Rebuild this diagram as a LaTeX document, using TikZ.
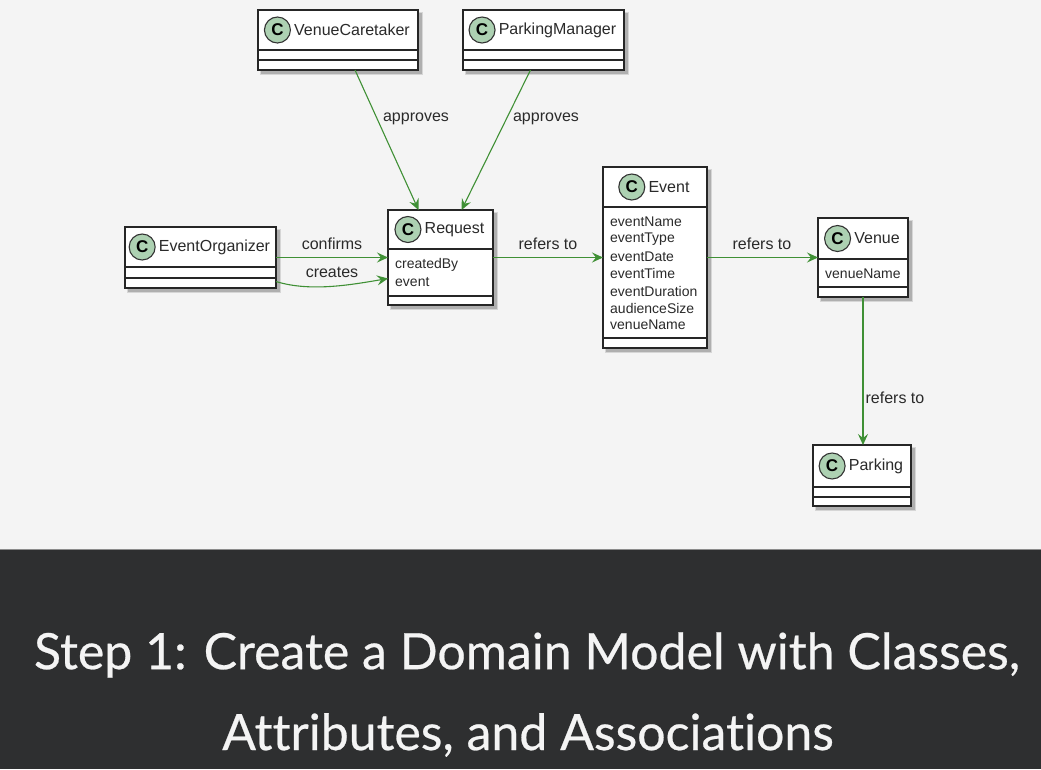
\documentclass[tikz,border=0pt]{standalone}
\usepackage{fontspec}
\setmainfont{Liberation Sans}
\newfontfamily\titlefont[Ligatures={NoCommon},FakeBold=0.5]{Lato}
\usetikzlibrary{arrows.meta,positioning}
\definecolor{bgtop}{HTML}{F4F4F4}
\definecolor{bgbot}{HTML}{2E2F30}
\definecolor{csymfill}{HTML}{ADD1B2}
\definecolor{assoc}{HTML}{3F9035}
\definecolor{txt}{HTML}{2A2A2A}
\definecolor{titletxt}{HTML}{F4F4F4}
\tikzset{
  classrect/.style={draw=black!85, line width=1.3pt, fill=white, inner sep=0pt, outer sep=0pt},
  boxline/.style={draw=black!85, line width=1.1pt},
  classname/.style={font=\fontsize{16}{18}\selectfont, text=txt, inner sep=0pt},
  csym/.style={circle, draw=black!80, line width=1.1pt, fill=csymfill, minimum size=26pt, inner sep=0pt, font=\bfseries\fontsize{17}{17}\selectfont},
  attr/.style={font=\fontsize{14}{16}\selectfont, text=txt, anchor=west, inner sep=0pt},
  assocline/.style={draw=assoc, line width=1.1pt, -{Stealth[length=11pt,width=10pt,inset=4pt]}},
  lbl/.style={font=\fontsize{16}{18}\selectfont, text=txt, inner sep=1pt},
  titletext/.style={font=\titlefont\fontsize{50}{56}\selectfont, text=titletxt, inner sep=0pt}
}
\newcommand\umlbox[8]{%
  \fill[black,opacity=0.12] ({#2+2},{#3+2}) rectangle ({#4+5},{#5+5});
  \fill[black,opacity=0.18] ({#2+3},{#3+3}) rectangle ({#4+4},{#5+4});
  \node[classrect, minimum width={(#4-#2)*1pt}, minimum height={(#5-#3)*1pt}] (#1) at ({(#2+#4)/2},{(#3+#5)/2}) {};
  \draw[boxline] (#2,#6) -- (#4,#6);
  \draw[boxline] (#2,#7) -- (#4,#7);
  \node[classname] (#1-n) at ({(#2+#4)/2+14},{(#3+#6)/2}) {#8};
  \node[csym, left=3pt of #1-n] (#1-c) {C};
}
\begin{document}
\begin{tikzpicture}[x=1pt,y=-1pt]
\useasboundingbox (0,0) rectangle (1041,769);
\fill[bgtop] (0,0) rectangle (1041,549);
\fill[bgbot] (0,549) rectangle (1041,769);
\draw[black!45, line width=1pt] (0,549) -- (1041,549);

\umlbox{vc}{258}{10}{418}{70}{50}{60}{VenueCaretaker}
\umlbox{pm}{463}{10}{624}{70}{50}{60}{ParkingManager}
\umlbox{eo}{125}{227}{276}{288}{267}{278}{EventOrganizer}
\umlbox{rq}{388}{210}{493}{305}{249}{296}{Request}
\umlbox{ev}{603}{167}{707}{348}{207}{338}{Event}
\umlbox{ve}{818}{218}{908}{297}{259}{287}{Venue}
\umlbox{pk}{813}{445}{911}{506}{487}{497}{Parking}

\node[attr] (rq-a1) at (395,265) {createdBy};
\node[attr] (rq-a2) at (395,282) {event};

\node[attr] (ev-a1) at (610,222) {eventName};
\node[attr] (ev-a2) at (610,239) {eventType};
\node[attr] (ev-a3) at (610,256.5) {eventDate};
\node[attr] (ev-a4) at (610,273.5) {eventTime};
\node[attr] (ev-a5) at (610,291) {eventDuration};
\node[attr] (ev-a6) at (610,308) {audienceSize};
\node[attr] (ev-a7) at (610,325) {venueName};

\node[attr] (ve-a1) at (825,274) {venueName};

\draw[assocline] ([xshift=17pt]vc.south) -- ([xshift=-22pt]rq.north);
\draw[assocline] ([xshift=-13pt]pm.south) -- ([xshift=21pt]rq.north);
\draw[assocline] (eo.east) -- (rq.west);
\draw[assocline] ([yshift=-24pt]eo.east) .. controls (310,292) and (350,285) .. ([yshift=-21pt]rq.west);
\draw[assocline] (rq.east) -- (ev.west);
\draw[assocline] (ev.east) -- (ve.west);
\draw[assocline] (ve.south) -- (ve.south |- pk.north);

\node[lbl] (l1) at (416,119) {approves};
\node[lbl] (l2) at (546,119) {approves};
\node[lbl] (l3) at (332,244) {confirms};
\node[lbl] (l4) at (332,272) {creates};
\node[lbl] (l5) at (548,244) {refers to};
\node[lbl] (l6) at (762,244) {refers to};
\node[lbl] (l7) at (895,398) {refers to};

\node[titletext] (t1) at (527,655) {Step 1: Create a Domain Model with Classes,};
\node[titletext] (t2) at (528,735) {Attributes, and Associations};
\end{tikzpicture}
\end{document}
